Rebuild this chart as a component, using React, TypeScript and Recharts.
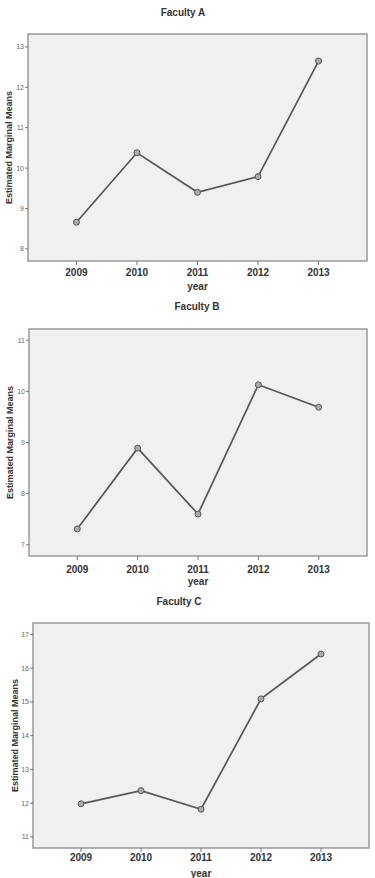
import { LineChart, Line, XAxis, YAxis, ReferenceArea } from "recharts";

const YEARS = [2009, 2010, 2011, 2012, 2013];

const FACULTY_A = [8.66, 10.38, 9.4, 9.79, 12.65];
const FACULTY_B = [7.31, 8.89, 7.6, 10.13, 9.69];
const FACULTY_C = [11.98, 12.37, 11.82, 15.09, 16.42];

const TICKS_A = [8, 9, 10, 11, 12, 13];
const TICKS_B = [7, 8, 9, 10, 11];
const TICKS_C = [11, 12, 13, 14, 15, 16, 17];

const X_DOMAIN: [number, number] = [2008.2, 2013.8];
const FONT = "'Liberation Sans', Arial, sans-serif";

interface PanelProps {
  title: string;
  values: number[];
  ticks: number[];
  domain: [number, number];
  left: number;
  right: number;
  top: number;
  bottom: number;
  titleX: number;
  titleY: number;
  labelX: number;
  tickGap: number;
}

function Panel({ title, values, ticks, domain, left, right, top, bottom, titleX, titleY, labelX, tickGap }: PanelProps) {
  const data = YEARS.map((y, i) => ({ year: y, value: values[i] }));
  const mTop = 2;
  const xH = 34;
  const height = bottom - top + mTop + xH;
  return (
    <>
      <div
        style={{
          position: "absolute",
          left: titleX - 60,
          top: titleY - 7,
          width: 120,
          textAlign: "center",
          fontFamily: FONT,
          fontWeight: "bold",
          fontSize: 10,
          lineHeight: "14px",
          color: "#333",
        }}
      >
        {title}
      </div>
      <div style={{ position: "absolute", left: 0, top: top - mTop }}>
        <LineChart width={375} height={height} data={data} margin={{ top: mTop, right: 375 - right, bottom: 0, left: 0 }}>
          <ReferenceArea
            x1={X_DOMAIN[0]}
            x2={X_DOMAIN[1]}
            y1={domain[0]}
            y2={domain[1]}
            fill="#f0f0f0"
            fillOpacity={1}
            stroke="#999"
            strokeWidth={1.5}
            ifOverflow="visible"
          />
          <XAxis
            dataKey="year"
            type="number"
            domain={X_DOMAIN}
            ticks={YEARS}
            allowDataOverflow
            height={xH}
            axisLine={false}
            tickSize={4}
            tickMargin={tickGap}
            tickLine={{ stroke: "#777" }}
            tick={{ fontSize: 10, fontWeight: "bold", fill: "#333", fontFamily: FONT }}
            label={{
              value: "year",
              position: "insideBottom",
              offset: 5,
              style: { fontSize: 10, fontWeight: "bold", fill: "#333", fontFamily: FONT },
            }}
          />
          <YAxis
            type="number"
            domain={domain}
            ticks={ticks}
            allowDataOverflow
            width={left}
            axisLine={false}
            tickSize={3}
            tickMargin={1}
            tickLine={{ stroke: "#777" }}
            tick={{ fontSize: 7, fill: "#666", fontFamily: FONT }}
            label={{
              value: "Estimated Marginal Means",
              angle: -90,
              position: "insideLeft",
              offset: labelX,
              style: { textAnchor: "middle", fontSize: 9, fontWeight: "bold", fill: "#333", fontFamily: FONT },
            }}
          />
          <Line
            dataKey="value"
            stroke="#555"
            strokeWidth={1.7}
            dot={{ r: 3, stroke: "#555", strokeWidth: 1, fill: "#aaa", fillOpacity: 1 }}
            isAnimationActive={false}
          />
        </LineChart>
      </div>
    </>
  );
}

export default function App() {
  return (
    <div style={{ position: "absolute", left: 0, top: 0, width: 375, height: 878, background: "#fff", overflow: "hidden" }}>
      <Panel
        title="Faculty A"
        values={FACULTY_A}
        ticks={TICKS_A}
        domain={[7.7, 13.32]}
        left={28}
        right={367}
        top={34}
        bottom={261}
        titleX={183}
        titleY={13}
        labelX={9}
        tickGap={4}
      />
      <Panel
        title="Faculty B"
        values={FACULTY_B}
        ticks={TICKS_B}
        domain={[6.78, 11.22]}
        left={29}
        right={367}
        top={329}
        bottom={556}
        titleX={197}
        titleY={307}
        labelX={10}
        tickGap={6}
      />
      <Panel
        title="Faculty C"
        values={FACULTY_C}
        ticks={TICKS_C}
        domain={[10.67, 17.34]}
        left={33}
        right={369}
        top={623}
        bottom={848}
        titleX={179}
        titleY={602}
        labelX={15}
        tickGap={2}
      />
    </div>
  );
}
